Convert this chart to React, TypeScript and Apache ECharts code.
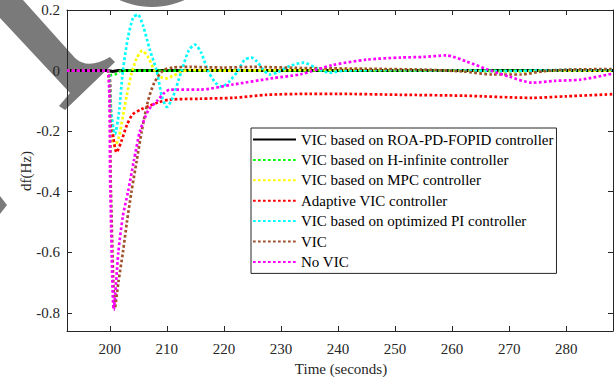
import React, { useEffect, useRef } from "react";
import * as echarts from "echarts";

const WATERMARK_PATH =
  "M0 0 L23 0 L75 58 Q88 70 110 57 L115 62 L65 110 L59 106 L70 93 L0 18 Z";
echarts.graphic.registerShape("wm", echarts.graphic.extendPath(WATERMARK_PATH, {}));

const xTicks = [200, 210, 220, 230, 240, 250, 260, 270, 280];
const yTicks = [-0.8, -0.6, -0.4, -0.2, 0, 0.2];

const seriesNames = [
  "VIC based on ROA-PD-FOPID controller",
  "VIC based on H-infinite controller",
  "VIC based on MPC controller",
  "Adaptive VIC controller",
  "VIC based on optimized PI controller",
  "VIC",
  "No VIC",
];

const roaPdFopid = [
  [192.5, 0], [199.6, 0], [200.5, -0.003], [201.5, 0], [288.2, 0],
];

const hInfinite = [
  [192.5, 0], [199.6, 0], [200.2, -0.015], [201, -0.012], [202, 0], [288.2, 0],
];

const mpc = [
  [192.5, 0], [199.6, 0], [200.2, -0.15], [200.9, -0.25], [201.6, -0.22], [202.3, -0.15],
  [203, -0.08], [203.8, -0.01], [204.7, 0.04], [205.7, 0.066], [206.7, 0.045],
  [207.8, 0.002], [209, -0.022], [210, -0.026], [211, -0.018], [212.5, -0.005],
  [214, 0.002], [220, 0], [240, 0.003], [260, 0], [270, -0.004], [280, 0], [288.2, 0],
];

const adaptive = [
  [192.5, 0], [199.6, 0], [200.3, -0.17], [201.2, -0.27], [202, -0.235], [203, -0.18],
  [204, -0.145], [205.5, -0.128], [207, -0.116], [208.5, -0.105], [210.5, -0.096],
  [215.8, -0.093], [221.6, -0.09], [227.5, -0.08], [235, -0.077], [240, -0.077],
  [251, -0.08], [262, -0.083], [274, -0.09], [280, -0.085], [288.2, -0.078],
];

const optimizedPi = [
  [192.5, 0], [199.6, 0], [200.2, -0.13], [200.9, -0.21], [201.6, -0.14], [202.3, 0],
  [203.2, 0.11], [204.1, 0.175], [204.9, 0.185], [205.8, 0.15], [207, 0.07],
  [208.2, 0], [209.2, -0.09], [210, -0.12], [211, -0.09], [212.6, 0], [213.8, 0.065],
  [214.9, 0.086], [216, 0.06], [217.2, 0], [218.5, -0.04], [219.6, -0.053],
  [221, -0.035], [222.5, 0], [223.6, 0.035], [224.8, 0.043], [225.8, 0.03],
  [226.8, 0.005], [228, -0.013], [229.5, -0.005], [231.5, 0.015], [234, 0.026],
  [236, 0.01], [238.5, -0.007], [241, 0], [250, 0.002], [260, 0], [270, -0.002],
  [280, 0.002], [288.2, 0.003],
];

const vic = [
  [192.5, 0], [199.6, 0], [200.2, -0.4], [200.9, -0.785], [201.5, -0.7], [202.3, -0.6],
  [203, -0.5], [203.8, -0.4], [204.7, -0.3], [205.6, -0.2], [206.7, -0.1],
  [207.8, -0.04], [209.3, 0], [211, 0.01], [214, 0.012], [220, 0.01], [225, 0.012],
  [235, 0.008], [245, 0.006], [255, 0.003], [262, -0.003], [267, -0.013],
  [272, -0.013], [276, -0.002], [280, 0.003], [288.2, 0.005],
];

const noVic = [
  [192.5, 0], [199.6, 0], [200.1, -0.4], [200.7, -0.79], [201.5, -0.6], [202.3, -0.48],
  [203.2, -0.4], [204.2, -0.3], [205.3, -0.2], [206.8, -0.13], [208.4, -0.098],
  [209.5, -0.075], [210.5, -0.063], [215.8, -0.063], [221.6, -0.046], [228.6, -0.025],
  [233.5, -0.012], [239, 0.018], [245, 0.036], [251, 0.043], [255, 0.045],
  [259, 0.05], [262.5, 0.03], [266, 0.005], [270, -0.02], [274, -0.04],
  [278, -0.034], [282.5, -0.03], [288.2, -0.01],
];

const seriesData = [roaPdFopid, hInfinite, mpc, adaptive, optimizedPi, vic, noVic];
const seriesColors = ["#000000", "#00ff00", "#ffff00", "#ff0000", "#00ffff", "#a0522d", "#ff00ff"];

const FONT = "'Liberation Serif', 'Times New Roman', serif";
const AXIS_COLOR = "#262626";

export default function App() {
  const ref = useRef<HTMLDivElement>(null);

  useEffect(() => {
    if (!ref.current) return;
    const chart = echarts.init(ref.current, undefined, { renderer: "svg" });

    const xAxisBase = {
      type: "value",
      min: 192.5,
      max: 288.2,
      axisLine: { show: true, onZero: false, lineStyle: { color: AXIS_COLOR, width: 1 } },
      axisTick: { show: true, inside: true, length: 5, customValues: xTicks, lineStyle: { color: AXIS_COLOR } },
      splitLine: { show: false },
    };
    const yAxisBase = {
      type: "value",
      min: -0.86,
      max: 0.2,
      axisLine: { show: true, onZero: false, lineStyle: { color: AXIS_COLOR, width: 1 } },
      axisTick: { show: true, inside: true, length: 5, customValues: yTicks, lineStyle: { color: AXIS_COLOR } },
      splitLine: { show: false },
    };

    chart.setOption({
      animation: false,
      backgroundColor: "#ffffff",
      grid: { left: 67, right: 3, top: 10, bottom: 48, containLabel: false },
      xAxis: [
        {
          ...xAxisBase,
          position: "bottom",
          axisLabel: {
            show: true,
            customValues: xTicks,
            margin: 10,
            color: AXIS_COLOR,
            fontFamily: FONT,
            fontSize: 15,
          },
        },
        { ...xAxisBase, position: "top", axisLabel: { show: false } },
      ],
      yAxis: [
        {
          ...yAxisBase,
          position: "left",
          axisLabel: {
            show: true,
            customValues: yTicks,
            margin: 7,
            color: AXIS_COLOR,
            fontFamily: FONT,
            fontSize: 15,
          },
        },
        { ...yAxisBase, position: "right", axisLabel: { show: false } },
      ],
      legend: {
        orient: "vertical",
        left: 251,
        top: 128,
        padding: [4, 3, 4, 1],
        itemGap: 5.4,
        itemWidth: 43,
        itemHeight: 12,
        borderColor: AXIS_COLOR,
        borderWidth: 1,
        backgroundColor: "#ffffff",
        selectedMode: false,
        data: seriesNames,
        itemStyle: { opacity: 0 },
        textStyle: { fontFamily: FONT, fontSize: 15, color: "#000000" },
      },
      graphic: [
        { type: "wm", x: 0, y: 0, scaleX: 1, scaleY: 1, z: 0, style: { fill: "#7a7a7a" } },
        { type: "circle", z: 0, shape: { cx: 152, cy: -72, r: 79 }, style: { fill: "#7a7a7a" } },
        { type: "polygon", z: 0, shape: { points: [[0, 196], [7, 205], [0, 214]] }, style: { fill: "#7a7a7a" } },
        {
          type: "text",
          x: 26,
          y: 171,
          rotation: Math.PI / 2,
          style: {
            text: "df(Hz)",
            fontFamily: FONT,
            fontSize: 15,
            fill: AXIS_COLOR,
            align: "center",
            verticalAlign: "middle",
          },
        },
        {
          type: "text",
          x: 341,
          y: 369,
          style: {
            text: "Time (seconds)",
            fontFamily: FONT,
            fontSize: 15,
            fill: AXIS_COLOR,
            align: "center",
            verticalAlign: "middle",
          },
        },
      ],
      series: seriesNames.map((name, i) => ({
        name,
        type: "line",
        data: seriesData[i],
        symbol: "none",
        smooth: 0.25,
        color: seriesColors[i],
        lineStyle:
          i === 0
            ? { color: seriesColors[i], width: 3, type: "solid" }
            : { color: seriesColors[i], width: 2.7, type: [2.7, 2.3], cap: "butt" },
        z: 2 + i * 0.01,
      })),
    });

    return () => chart.dispose();
  }, []);

  return (
    <div
      ref={ref}
      style={{ position: "fixed", left: 0, top: 0, width: 616, height: 379 }}
    />
  );
}
